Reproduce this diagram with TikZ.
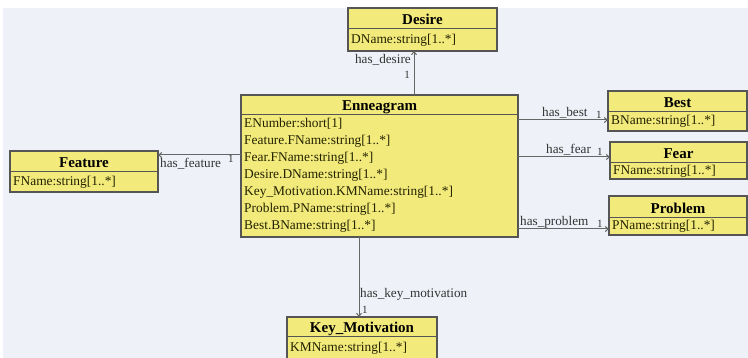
\documentclass[tikz,border=0pt]{standalone}
\usepackage{fontspec}
\setmainfont{Liberation Serif}
\usetikzlibrary{arrows.meta}

\definecolor{bgcol}{HTML}{EEF2F8}
\definecolor{clsfill}{HTML}{F3EA7C}
\definecolor{clsline}{HTML}{555555}
\definecolor{assoccol}{HTML}{666666}
\definecolor{labcol}{HTML}{333333}
\definecolor{attrcol}{HTML}{222200}

\tikzset{
  umlcls/.style={draw=clsline, fill=clsfill, line width=1.2pt, rectangle,
    inner sep=0pt, outer sep=0pt},
  sepline/.style={draw=clsline, line width=1pt},
  umltitle/.style={inner sep=0pt, font=\fontsize{15}{17}\selectfont\bfseries, text=black},
  attr/.style={inner sep=0pt, anchor=base west, font=\fontsize{13.4}{17}\selectfont, text=attrcol},
  assoc/.style={draw=assoccol, line width=1pt, -{Straight Barb[length=3pt,width=5pt]}},
  rolelab/.style={inner sep=0pt, font=\fontsize{13.2}{15}\selectfont, text=labcol},
  multlab/.style={inner sep=0pt, font=\fontsize{11}{12}\selectfont, text=labcol},
}

% class box: name, left, top, right, separator y, bottom, title
\newcommand\umlclassbox[7]{%
  \node[umlcls, minimum width={(#4-#2)*1pt}, minimum height={(#6-#3)*1pt},
        anchor=north west] (#1) at (#2,#3) {};
  \draw[sepline] (#1.west |- 0,#5) -- (#1.east |- 0,#5);
  \node[umltitle, anchor=base] (#1-title) at ({(#2+#4)/2},#5-4) {#7};
}

\begin{document}
\begin{tikzpicture}[x=1pt,y=-1pt]
  \useasboundingbox (0,0) rectangle (748,358);
  \fill[white] (0,0) rectangle (748,358);
  \fill[bgcol] (3,8) rectangle (748,358);

  % classes
  \umlclassbox{desire}{348}{8}{497}{29}{51}{Desire}
  \node[attr] (desire-a1) at (351,44) {DName:string[1..*]};

  \umlclassbox{enn}{241}{95}{518}{115}{237}{Enneagram}
  \node[attr] (enn-a1) at (244,128) {ENumber:short[1]};
  \node[attr] (enn-a2) at (244,145) {Feature.FName:string[1..*]};
  \node[attr] (enn-a3) at (244,162) {Fear.FName:string[1..*]};
  \node[attr] (enn-a4) at (244,179) {Desire.DName:string[1..*]};
  \node[attr] (enn-a5) at (244,196) {Key\_Motivation.KMName:string[1..*]};
  \node[attr] (enn-a6) at (244,213) {Problem.PName:string[1..*]};
  \node[attr] (enn-a7) at (244,230) {Best.BName:string[1..*]};

  \umlclassbox{feature}{10}{151}{158}{172}{192}{Feature}
  \node[attr] (feature-a1) at (13,186) {FName:string[1..*]};

  \umlclassbox{best}{608}{91}{747}{112}{131}{Best}
  \node[attr] (best-a1) at (611,125) {BName:string[1..*]};

  \umlclassbox{fear}{610}{142}{747}{163}{179}{Fear}
  \node[attr] (fear-a1) at (613,175) {FName:string[1..*]};

  \umlclassbox{problem}{609}{196}{747}{218}{235}{Problem}
  \node[attr] (problem-a1) at (612,230) {PName:string[1..*]};

  \umlclassbox{keymot}{287}{317}{437}{337}{362}{Key\_Motivation}
  \node[attr] (keymot-a1) at (290,352) {KMName:string[1..*]};

  % associations
  \draw[assoc] (enn.north -| 414,0) -- (desire.south -| 414,0);
  \node[rolelab, anchor=base east] (l-desire) at (411,64) {has\_desire};
  \node[multlab, anchor=base east] (m-desire) at (410,79) {1};

  \draw[assoc] (enn.west |- 0,155) -- (feature.east |- 0,155);
  \node[rolelab, anchor=base west] (l-feature) at (160,168) {has\_feature};
  \node[multlab, anchor=base west] (m-feature) at (228,163) {1};

  \draw[assoc] (enn.east |- 0,120) -- (best.west |- 0,120);
  \node[rolelab, anchor=base west] (l-best) at (542,117) {has\_best};
  \node[multlab, anchor=base west] (m-best) at (596,119) {1};

  \draw[assoc] (enn.east |- 0,157) -- (fear.west |- 0,157);
  \node[rolelab, anchor=base west] (l-fear) at (546,154) {has\_fear};
  \node[multlab, anchor=base west] (m-fear) at (597,156) {1};

  \draw[assoc] (enn.east |- 0,229) -- (problem.west |- 0,229);
  \node[rolelab, anchor=base west] (l-problem) at (520,226) {has\_problem};
  \node[multlab, anchor=base west] (m-problem) at (597,228) {1};

  \draw[assoc] (enn.south -| 359,0) -- (keymot.north -| 359,0);
  \node[rolelab, anchor=base west] (l-keymot) at (360,298) {has\_key\_motivation};
  \node[multlab, anchor=base west] (m-keymot) at (362,314) {1};
\end{tikzpicture}
\end{document}
